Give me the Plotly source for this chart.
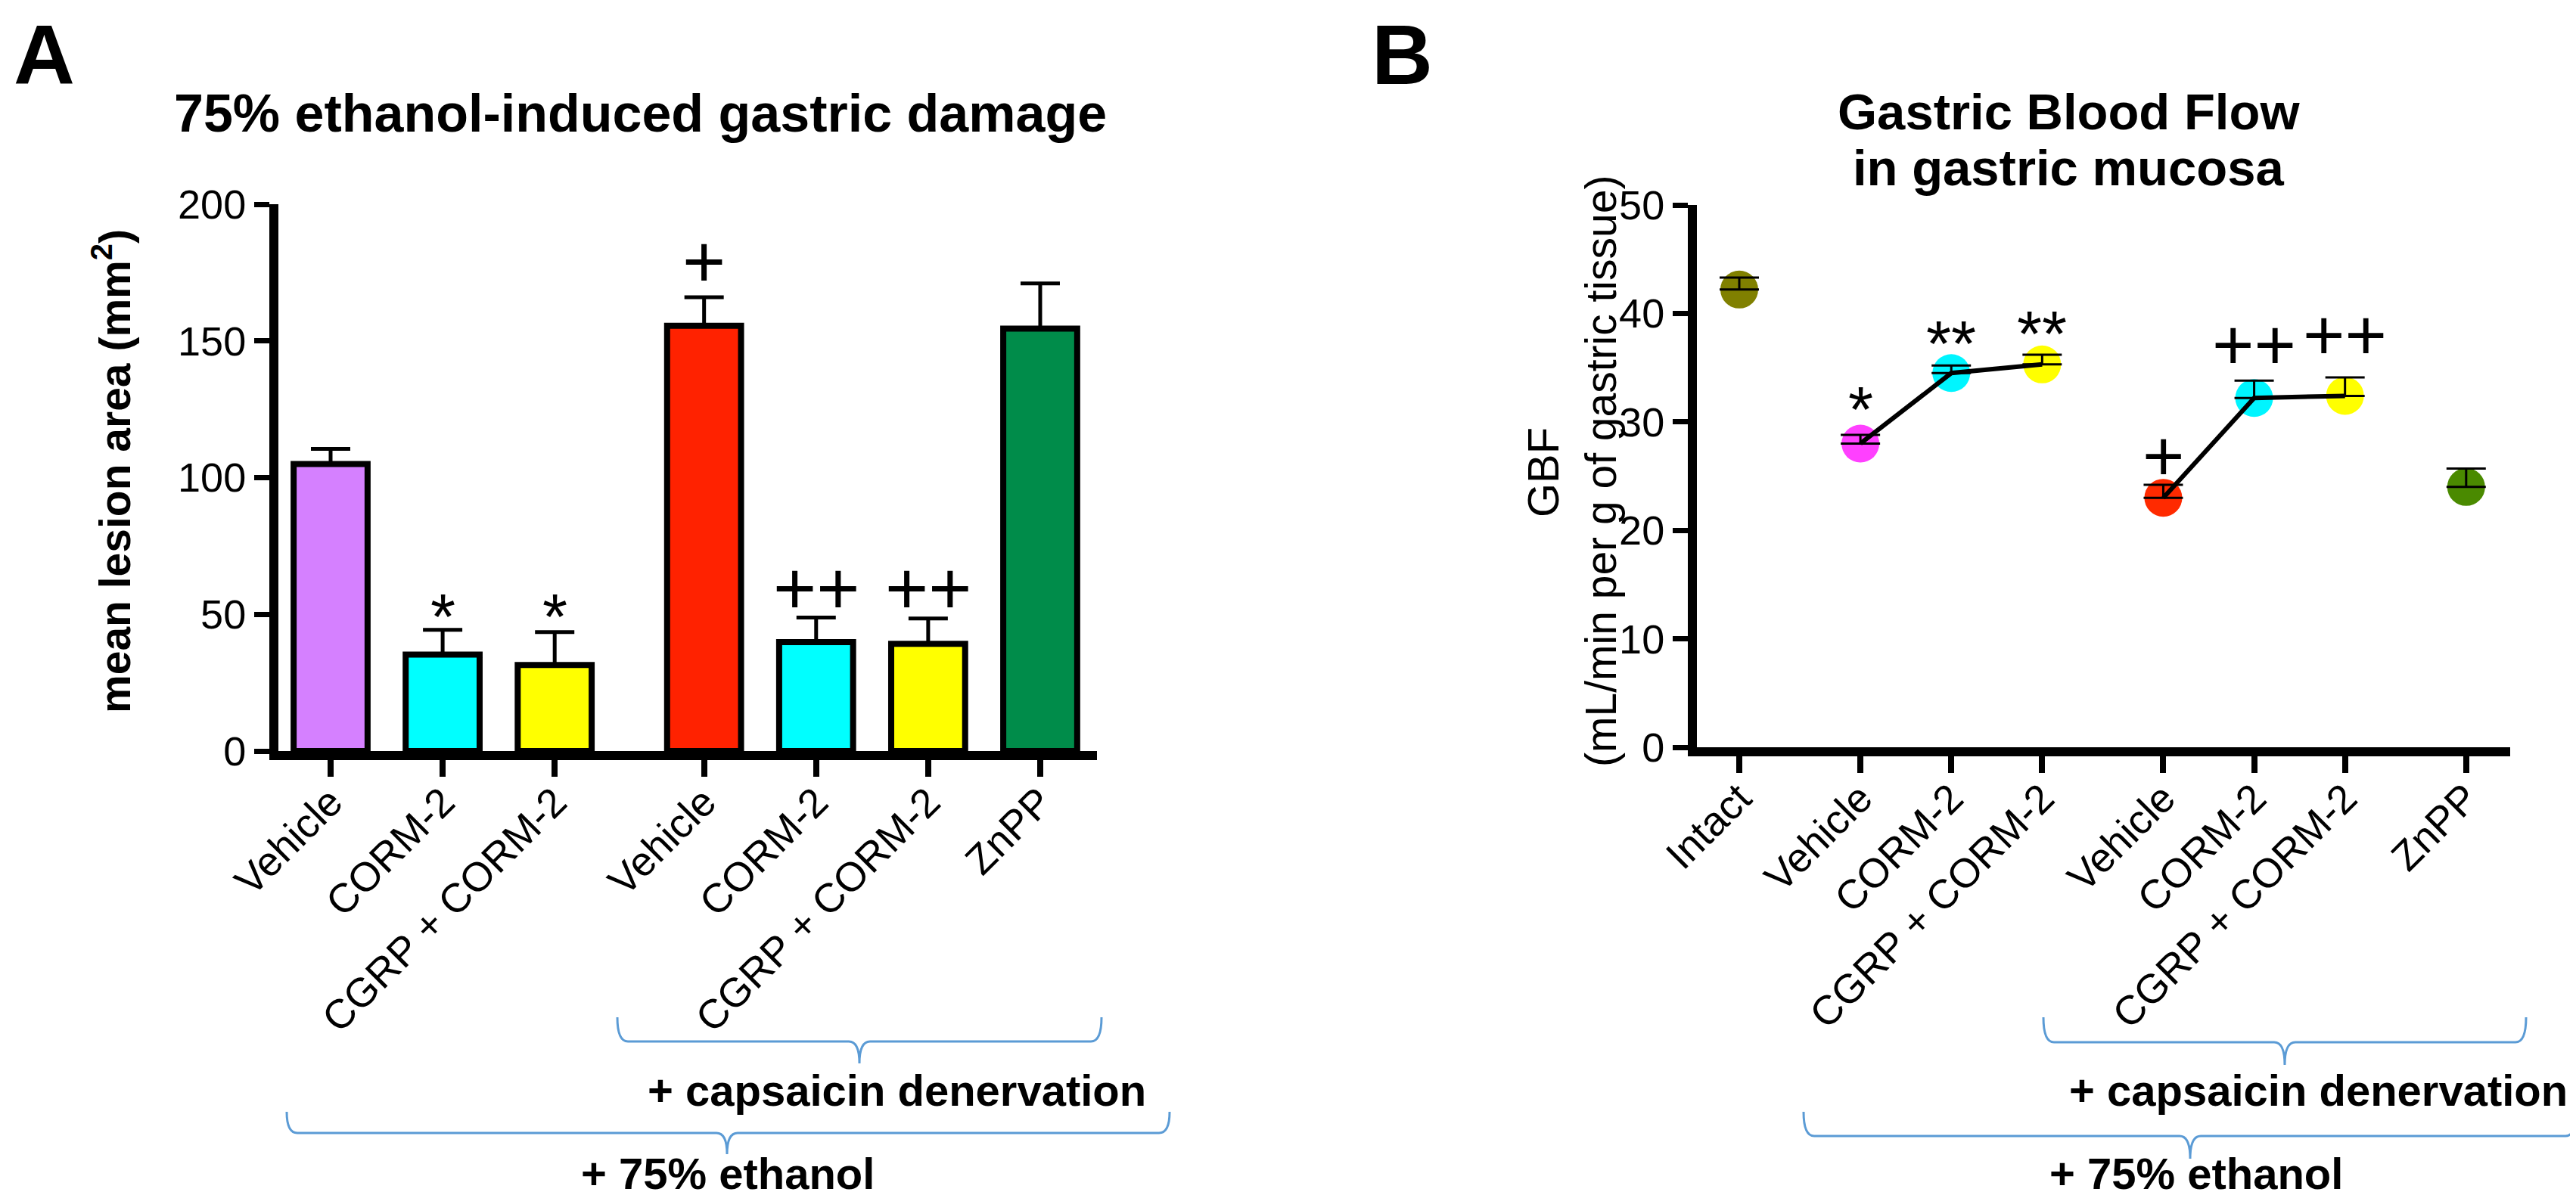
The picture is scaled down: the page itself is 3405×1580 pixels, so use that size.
import plotly.graph_objects as go

W, H = 3405, 1580
FONT = "Liberation Sans, Arial, sans-serif"

# ---------------- Panel A data ----------------
a_labels = ["Vehicle", "CORM-2", "CGRP + CORM-2", "Vehicle", "CORM-2", "CGRP + CORM-2", "ZnPP"]
a_group = [0, 0, 0, 1, 1, 1, 1]
a_means = [105.0, 35.3, 31.5, 155.5, 39.8, 39.2, 154.5]
a_sem = [5.5, 9.0, 12.0, 10.5, 9.0, 9.3, 16.5]
a_colors = ["#D580FF", "#00FFFF", "#FFFF00", "#FF2200", "#00FFFF", "#FFFF00", "#008C4A"]
a_marks = ["", "*", "*", "+", "++", "++", ""]
a_mark_y = [None, 54.5, 54.5, 179.0, 59.5, 59.5, None]
a_yticks = [0, 50, 100, 150, 200]

# ---------------- Panel B data ----------------
b_labels = ["Intact", "Vehicle", "CORM-2", "CGRP + CORM-2", "Vehicle", "CORM-2", "CGRP + CORM-2", "ZnPP"]
b_group = [0, 1, 1, 1, 2, 2, 2, 3]
b_means = [42.2, 28.0, 34.5, 35.3, 23.0, 32.2, 32.4, 24.0]
b_sem = [1.1, 0.8, 0.7, 0.9, 1.2, 1.6, 1.7, 1.7]
b_colors = ["#808000", "#FF40FF", "#00F5FF", "#FFFF00", "#FF2A00", "#00F5FF", "#FFFF00", "#4A8A00"]
b_marks = ["", "*", "**", "**", "+", "++", "++", ""]
b_mark_y = [None, 32.5, 38.6, 39.5, 26.9, 37.2, 38.1, None]
b_connected = [[1, 2, 3], [4, 5, 6]]
b_yticks = [0, 10, 20, 30, 40, 50]

GAP = 1.0 / 3.0
a_pos = [i + g * GAP for i, g in enumerate(a_group)]
b_pos = [i + g * GAP for i, g in enumerate(b_group)]


def px(x):
    return x / W


def py(y):
    return 1 - y / H


fig = go.Figure()

# ---- Panel A bars ----
fig.add_trace(go.Bar(
    x=a_pos, y=a_means, width=0.66,
    marker=dict(color=a_colors, line=dict(color="black", width=8)),
    error_y=dict(type="data", array=a_sem, arrayminus=[0] * len(a_sem), symmetric=False,
                 thickness=5, width=26, color="black"),
    xaxis="x", yaxis="y", showlegend=False,
))

# ---- Panel B markers ----
fig.add_trace(go.Scatter(
    x=b_pos, y=b_means, mode="markers",
    marker=dict(size=50, color=b_colors, line=dict(width=0)),
    xaxis="x2", yaxis="y2", showlegend=False,
))
for grp in b_connected:
    fig.add_trace(go.Scatter(
        x=[b_pos[i] for i in grp], y=[b_means[i] for i in grp], mode="lines",
        line=dict(color="black", width=6),
        xaxis="x2", yaxis="y2", showlegend=False,
    ))
fig.add_trace(go.Scatter(
    x=b_pos, y=b_means, mode="markers",
    marker=dict(size=1, color="rgba(0,0,0,0)"),
    error_y=dict(type="data", array=b_sem, arrayminus=[0] * len(b_sem), symmetric=False,
                 thickness=3, width=26, color="black"),
    xaxis="x2", yaxis="y2", showlegend=False,
))

# ---- significance marks ----
anns = []
for pos, m, yv in zip(a_pos, a_marks, a_mark_y):
    if m:
        star = "*" in m
        anns.append(dict(x=pos, y=yv, xref="x", yref="y", text=m, showarrow=False,
                         font=dict(family=FONT, size=85 if star else 98, color="black"),
                         yshift=-20 if star else 0))
for pos, m, yv in zip(b_pos, b_marks, b_mark_y):
    if m:
        star = "*" in m
        anns.append(dict(x=pos, y=yv, xref="x2", yref="y2", text=m, showarrow=False,
                         font=dict(family=FONT, size=85 if star else 95, color="black"),
                         yshift=-20 if star else 0))


def text(x, y, s, size, bold=False, angle=0, yanchor="middle"):
    return dict(x=px(x), y=py(y), xref="paper", yref="paper", text=(f"<b>{s}</b>" if bold else s),
                showarrow=False, textangle=angle, xanchor="center", yanchor=yanchor,
                font=dict(family=FONT, size=size, color="black"))


anns += [
    text(50, 0, "A", 112, bold=True, yanchor="top"),
    text(1845, 0, "B", 112, bold=True, yanchor="top"),
    text(838, 142, "75% ethanol-induced gastric damage", 70, bold=True),
    text(2726, 139, "Gastric Blood Flow", 67, bold=True),
    text(2726, 213, "in gastric mucosa", 67, bold=True),
    text(140, 615, "mean lesion area (mm<sup>2</sup>)", 57, bold=True, angle=-90),
    text(2031, 617, "GBF", 58, angle=-90),
    text(2108, 615, "(mL/min per g of gastric tissue)", 57, angle=-90),
    text(1177, 1433, "+ capsaicin denervation", 58, bold=True),
    text(954, 1543, "+ 75% ethanol", 58, bold=True),
    text(3056, 1433, "+ capsaicin denervation", 58, bold=True),
    text(2895, 1543, "+ 75% ethanol", 58, bold=True),
]


def brace(xl, xr, xc, ytop, ymid, ytip, r=14):
    pts = [
        f"M {px(xl)},{py(ytop)}",
        f"Q {px(xl)},{py(ymid)} {px(xl + r)},{py(ymid)}",
        f"L {px(xc - r)},{py(ymid)}",
        f"Q {px(xc)},{py(ymid)} {px(xc)},{py(ytip)}",
        f"Q {px(xc)},{py(ymid)} {px(xc + r)},{py(ymid)}",
        f"L {px(xr - r)},{py(ymid)}",
        f"Q {px(xr)},{py(ymid)} {px(xr)},{py(ytop)}",
    ]
    return dict(type="path", path=" ".join(pts), xref="paper", yref="paper",
                line=dict(color="#5B9BD5", width=3))


shapes = [
    brace(808, 1448, 1128, 1337, 1369, 1398),
    brace(371, 1538, 953, 1462, 1490, 1518),
    brace(2693, 3331, 3012, 1337, 1370, 1400),
    brace(2376, 3397, 2887, 1462, 1494, 1524),
]

# axis geometry (pixels)
A_L, A_R, A_T, A_B = 360, 1442, 262, 985
A_x0, A_scale = 429, 148.1
B_L, B_R, B_T, B_B = 2235, 3310, 263, 980
B_x0, B_scale = 2291, 120.1

a_lo = -(A_x0 - A_L) / A_scale
a_hi = a_lo + (A_R - A_L) / A_scale
b_lo = -(B_x0 - B_L) / B_scale
b_hi = b_lo + (B_R - B_L) / B_scale

common_x = dict(showline=True, linewidth=12, linecolor="black", ticks="outside", ticklen=22,
                tickwidth=8, tickcolor="black", tickangle=-45, showgrid=False, zeroline=False,
                automargin=False, ticklabelstandoff=-20,
                tickfont=dict(family=FONT, size=54, color="black"))
common_y = dict(showline=True, linewidth=12, linecolor="black", ticks="outside", ticklen=20,
                tickwidth=7, tickcolor="black", showgrid=False, zeroline=False,
                automargin=False, tickfont=dict(family=FONT, size=54, color="black"))

fig.update_layout(
    width=W, height=H, margin=dict(l=0, r=0, t=0, b=0, autoexpand=False),
    paper_bgcolor="white", plot_bgcolor="white", showlegend=False,
    xaxis=dict(domain=[px(A_L), px(A_R)], range=[a_lo, a_hi], anchor="y",
               tickvals=a_pos, ticktext=a_labels, **common_x),
    yaxis=dict(domain=[py(A_B), py(A_T)], range=[0, 200], anchor="x",
               tickvals=a_yticks, **common_y),
    xaxis2=dict(domain=[px(B_L), px(B_R)], range=[b_lo, b_hi], anchor="y2",
                tickvals=b_pos, ticktext=b_labels, **common_x),
    yaxis2=dict(domain=[py(B_B), py(B_T)], range=[0, 50], anchor="x2",
                tickvals=b_yticks, **common_y),
    annotations=anns, shapes=shapes,
)

fig.write_html("out.html")
